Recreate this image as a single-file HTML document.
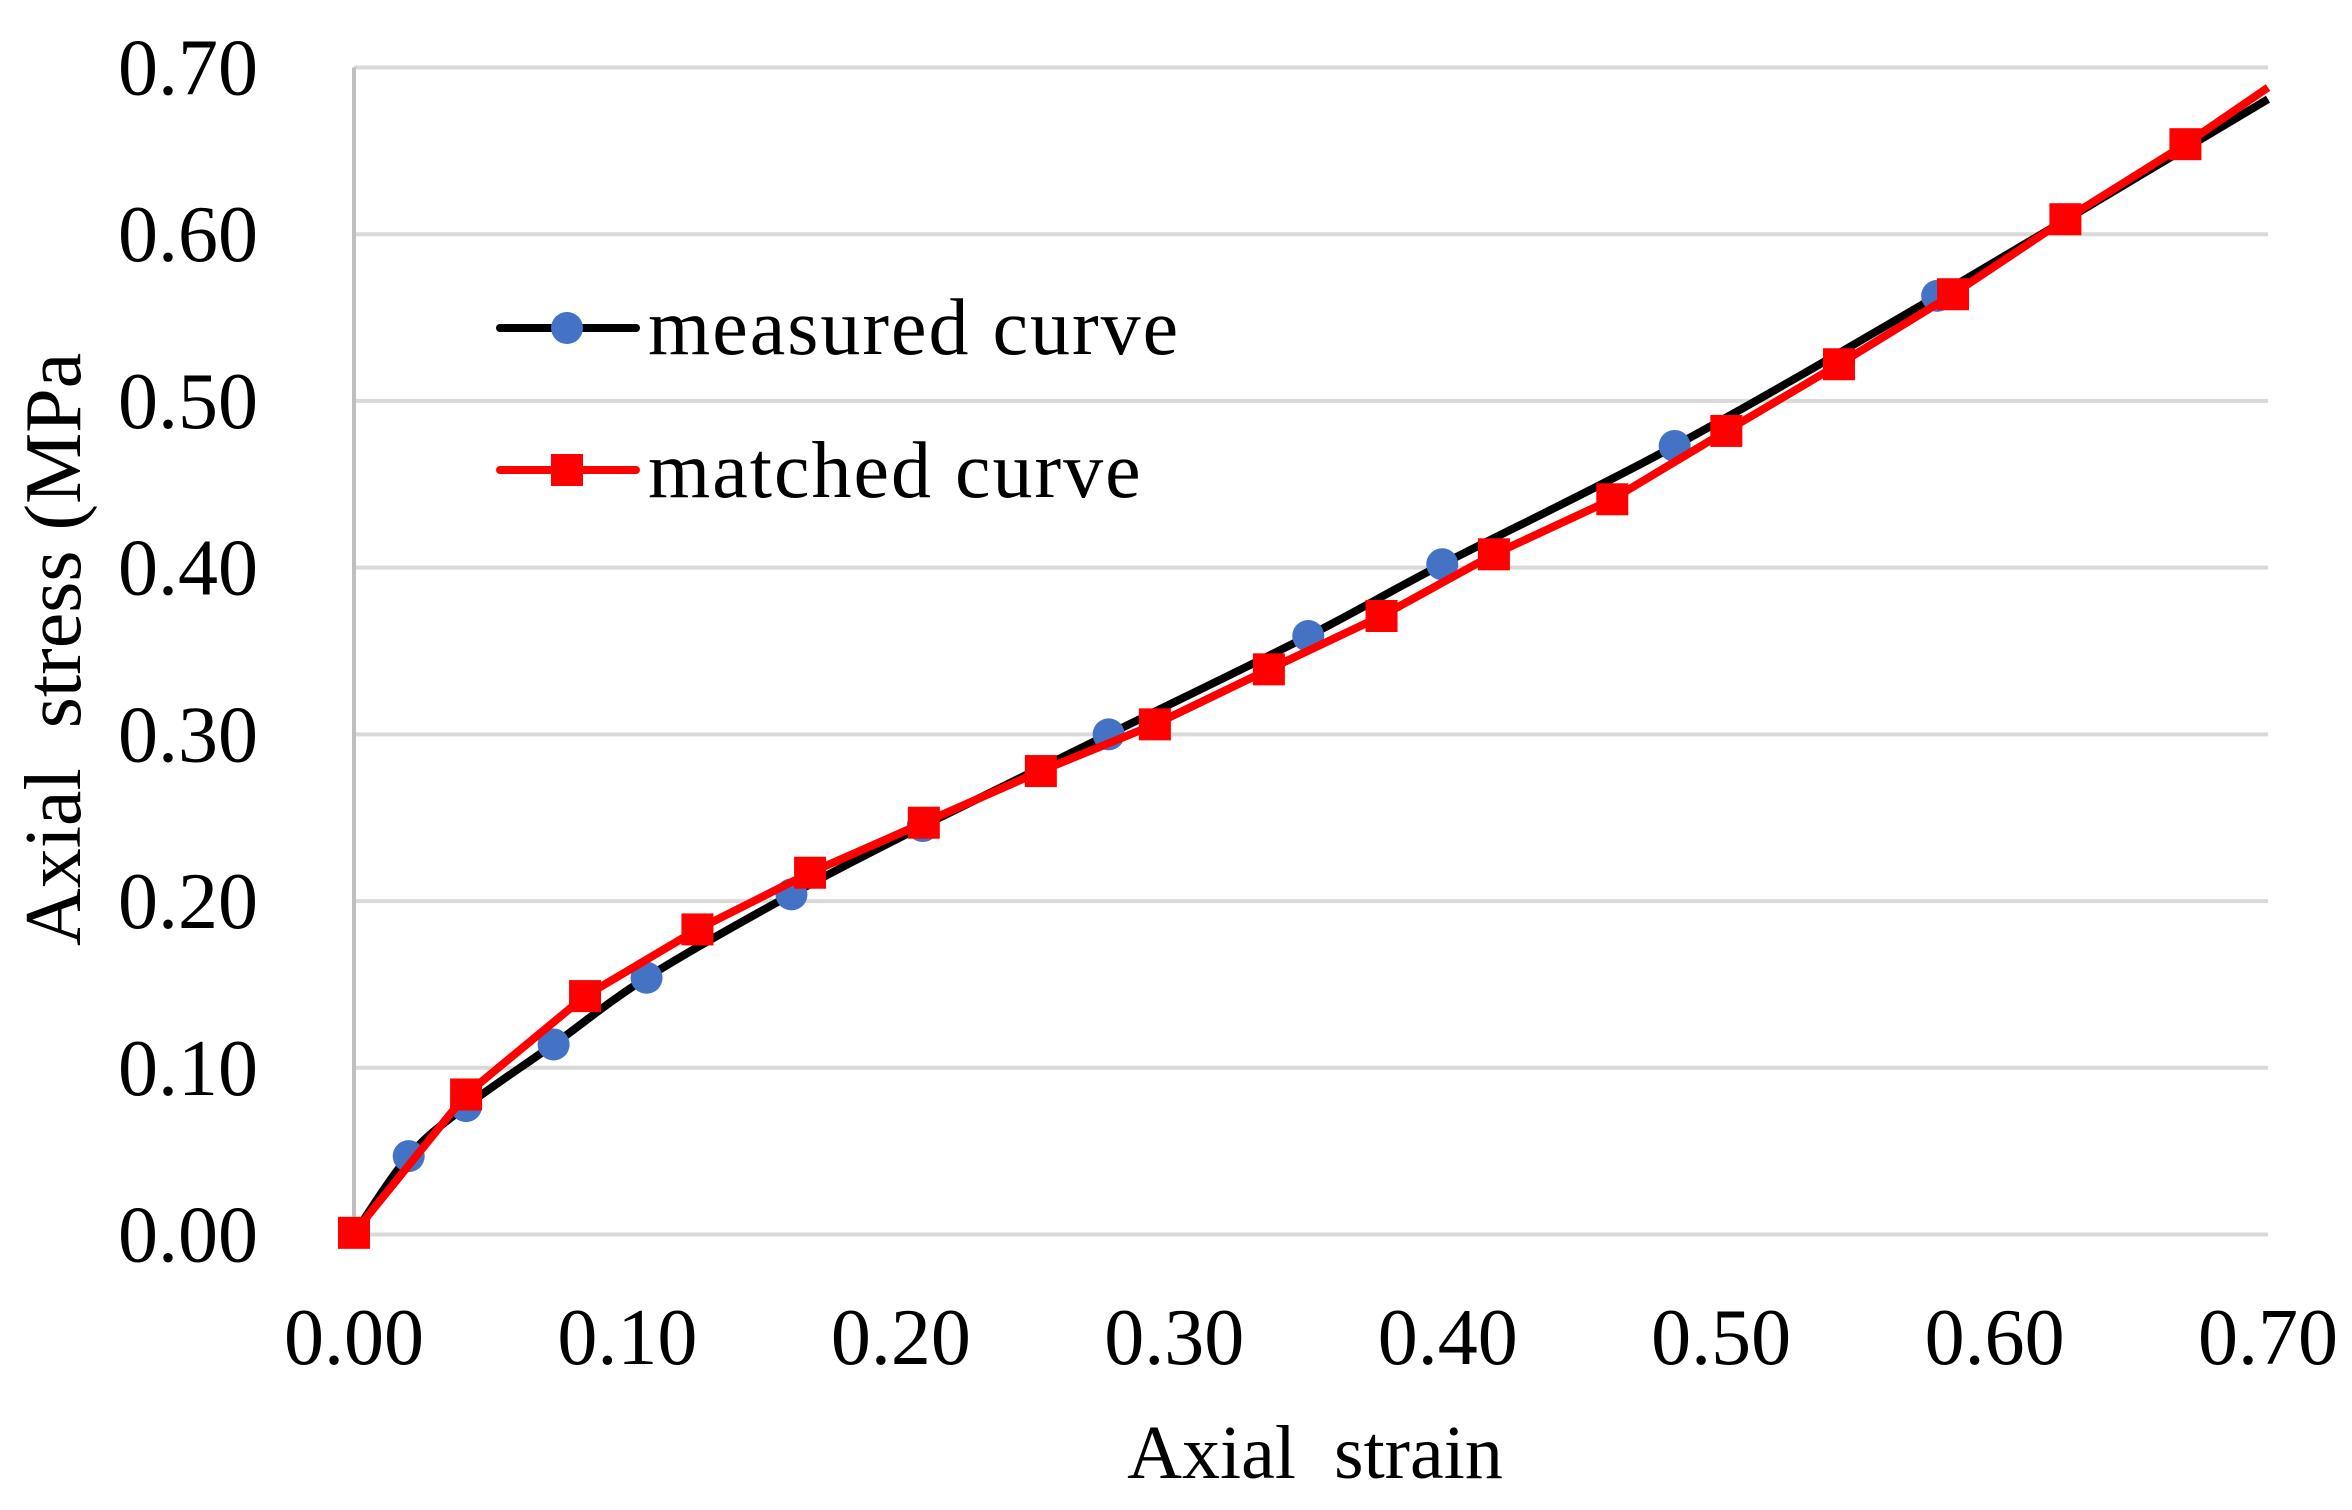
<!DOCTYPE html>
<html><head><meta charset="utf-8"><style>
html,body{margin:0;padding:0;background:#fff;}
svg{display:block;font-family:"Liberation Serif",serif;}
</style></head><body>
<svg id="chart" width="2352" height="1510" viewBox="0 0 2352 1510" xmlns="http://www.w3.org/2000/svg">
<g id="grid"></g>
<g id="axes"></g>
<g id="series"></g>
<text x="1315" y="1478" font-size="76" text-anchor="middle" xml:space="preserve">Axial  strain</text>
<text x="0" y="0" font-size="80" text-anchor="start" xml:space="preserve" transform="translate(80,946) rotate(-90)">Axial  stress (MPa</text>
<g>
 <g>
  <line x1="500" y1="328" x2="636" y2="328" stroke="#000" stroke-width="8" stroke-linecap="round"/>
  <circle cx="567" cy="328" r="16" fill="#4472c4"/>
  <text x="648" y="354" font-size="80" letter-spacing="2">measured curve</text>
 </g>
 <g>
  <line x1="500" y1="470" x2="636" y2="470" stroke="#ff0000" stroke-width="8" stroke-linecap="round"/>
  <rect x="551" y="454" width="32" height="32" fill="#ff0000"/>
  <text x="648" y="497" font-size="80" letter-spacing="2">matched curve</text>
 </g>
</g>
</svg>
<script>
const xTicks = [0,0.1,0.2,0.3,0.4,0.5,0.6,0.7];
const yTicks = [0,0.1,0.2,0.3,0.4,0.5,0.6,0.7];
const measuredX = [0,0.020,0.041,0.073,0.107,0.160,0.208,0.276,0.349,0.398,0.483,0.579,0.70];
const measuredY = [0,0.047,0.077,0.114,0.154,0.204,0.245,0.300,0.359,0.402,0.473,0.563,0.681];
const measuredMarkX = [0.020,0.041,0.073,0.107,0.160,0.208,0.276,0.349,0.398,0.483,0.579];
const measuredMarkY = [0.047,0.077,0.114,0.154,0.204,0.245,0.300,0.359,0.402,0.473,0.563];
const matchedX = [0,0.041,0.0845,0.1256,0.1668,0.2084,0.2512,0.2929,0.3346,0.3758,0.4169,0.4602,0.5019,0.5431,0.5848,0.6259,0.6698,0.70];
const matchedY = [0.001,0.084,0.143,0.183,0.217,0.247,0.278,0.306,0.339,0.371,0.408,0.441,0.482,0.522,0.564,0.609,0.654,0.688];

const X0=354,X1=2268,Y0=1234.5,Y1=67.5;
function sx(v){return X0+(v/0.7)*(X1-X0);}
function sy(v){return Y0-(v/0.7)*(Y0-Y1);}
const NS="http://www.w3.org/2000/svg";
function mk(tag,attrs,parent){const e=document.createElementNS(NS,tag);for(const k in attrs)e.setAttribute(k,attrs[k]);parent.appendChild(e);return e;}
const grid=document.getElementById('grid'),axes=document.getElementById('axes'),series=document.getElementById('series');
yTicks.forEach(v=>{
  const l=mk('line',{x1:X0,x2:X1,y1:sy(v),y2:sy(v),stroke:'#d9d9d9','stroke-width':4},grid);
  
  
  const t=mk('text',{x:258,y:sy(v)+27,'font-size':80,'text-anchor':'end'},axes);
  t.textContent=v.toFixed(2);
  
  
});
const ax=mk('line',{x1:X0,x2:X0,y1:Y1,y2:Y0,stroke:'#bfbfbf','stroke-width':4},axes);


xTicks.forEach(v=>{
  const t=mk('text',{x:sx(v),y:1364,'font-size':80,'text-anchor':'middle'},axes);
  t.textContent=v.toFixed(2);
  
  
});
const mp=measuredX.map((x,i)=>[sx(x),sy(measuredY[i])]);
let d='M'+mp[0][0]+','+mp[0][1];
for(let i=0;i<mp.length-1;i++){
  const p0=mp[Math.max(0,i-1)],p1=mp[i],p2=mp[i+1],p3=mp[Math.min(mp.length-1,i+2)];
  const c1=[p1[0]+(p2[0]-p0[0])/6,p1[1]+(p2[1]-p0[1])/6];
  const c2=[p2[0]-(p3[0]-p1[0])/6,p2[1]-(p3[1]-p1[1])/6];
  d+=' C'+c1+' '+c2+' '+p2;
}
const ml=mk('path',{d:d,fill:'none',stroke:'#000','stroke-width':8},series);


measuredMarkX.forEach((x,i)=>{
  const c=mk('circle',{cx:sx(x),cy:sy(measuredMarkY[i]),r:16,fill:'#4472c4'},series);
  
  
});
const rl=mk('polyline',{points:matchedX.map((x,i)=>sx(x)+','+sy(matchedY[i])).join(' '),fill:'none',stroke:'#ff0000','stroke-width':8,'stroke-linejoin':'round'},series);


matchedX.forEach((x,i)=>{
  if(i===matchedX.length-1)return;
  const r=mk('rect',{x:sx(x)-16,y:sy(matchedY[i])-16,width:32,height:32,fill:'#ff0000'},series);
  
  
});
</script>
</body></html>
